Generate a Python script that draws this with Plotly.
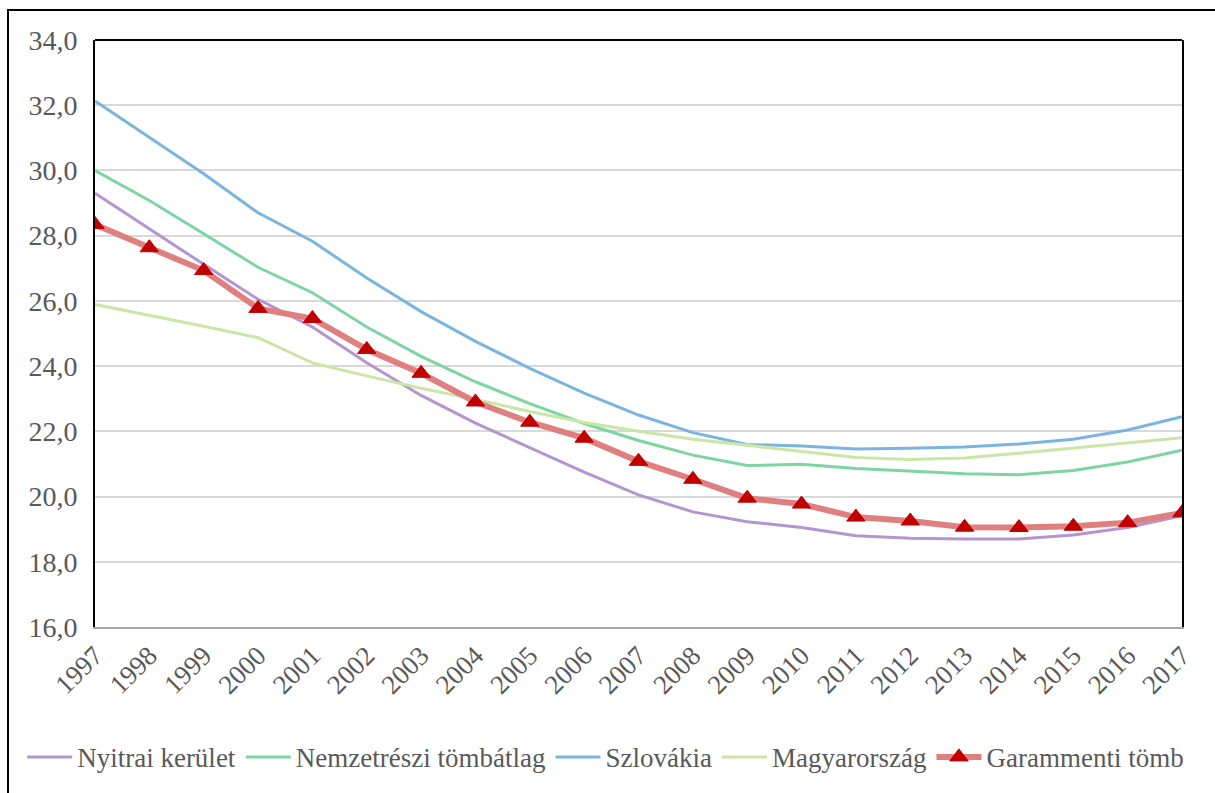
import plotly.graph_objects as go

years = [str(y) for y in range(1997, 2018)]

nyitrai = [29.3, 28.2, 27.12, 26.05, 25.2, 24.1, 23.1, 22.25, 21.5, 20.75, 20.05, 19.53,
           19.23, 19.05, 18.8, 18.72, 18.7, 18.7, 18.82, 19.05, 19.41]
nemzetreszi = [30.0, 29.08, 28.06, 27.03, 26.25, 25.2, 24.3, 23.52, 22.85, 22.24, 21.72, 21.27,
               20.95, 20.99, 20.86, 20.79, 20.7, 20.67, 20.8, 21.06, 21.42]
szlovakia = [32.13, 31.02, 29.9, 28.7, 27.83, 26.7, 25.67, 24.76, 23.93, 23.17, 22.5, 21.96,
             21.6, 21.55, 21.46, 21.48, 21.52, 21.61, 21.76, 22.04, 22.45]
magyarorszag = [25.89, 25.56, 25.22, 24.87, 24.1, 23.7, 23.32, 22.98, 22.61, 22.27, 22.0, 21.76,
                21.58, 21.4, 21.2, 21.14, 21.18, 21.33, 21.49, 21.65, 21.8]
garammenti = [28.34, 27.63, 26.93, 25.77, 25.46, 24.51, 23.78, 22.9, 22.28, 21.79, 21.08, 20.53,
              19.95, 19.77, 19.37, 19.25, 19.06, 19.05, 19.09, 19.2, 19.5]

names = ["Nyitrai kerület", "Nemzetrészi tömbátlag", "Szlovákia", "Magyarország", "Garammenti tömb"]
colors = ["#B495D2", "#7DD5A2", "#7AB5E0", "#C9E6A6", "#E07F7F"]

fig = go.Figure()
for name, vals, col in zip(names[:4], [nyitrai, nemzetreszi, szlovakia, magyarorszag], colors[:4]):
    fig.add_trace(go.Scatter(x=years, y=vals, name=name, mode="lines",
                             line=dict(color=col, width=3)))
fig.add_trace(go.Scatter(x=years, y=garammenti, name=names[4], mode="lines+markers",
                         line=dict(color=colors[4], width=6),
                         marker=dict(symbol="triangle-up", size=16, color="#C00000",
                                     line=dict(color="#C00000", width=1))))

font_family = "Times New Roman"
fig.update_layout(
    width=1215, height=793,
    paper_bgcolor="white", plot_bgcolor="white",
    margin=dict(l=95, r=33, t=40, b=165),
    separators=", ",
    font=dict(family=font_family, color="#595959", size=27),
    showlegend=True,
    legend=dict(orientation="h", x=-0.067, xanchor="left", y=-0.22, yanchor="middle",
                font=dict(size=27, color="#595959", family=font_family),
                itemwidth=45, tracegroupgap=0, traceorder="normal"),
    xaxis=dict(type="category", range=[0, 20], showgrid=False, automargin=False,
               showline=True, linecolor="#A6A6A6", linewidth=2,
               ticks="", tickangle=-45, tickfont=dict(size=27, color="#595959", family=font_family)),
    yaxis=dict(range=[16, 34], dtick=2, tickformat=".1f", automargin=False,
               showgrid=True, gridcolor="#D9D9D9", gridwidth=2,
               showline=True, linecolor="black", linewidth=2, mirror=True,
               ticks="", zeroline=False, ticklabelstandoff=10,
               tickfont=dict(size=28, color="#595959", family=font_family)),
    shapes=[
        dict(type="line", xref="paper", yref="paper", x0=0, x1=1, y0=1, y1=1,
             line=dict(color="black", width=2)),
        dict(type="rect", xref="paper", yref="paper",
             x0=-87/1087, x1=1.2, y0=1 + 30/588, y1=-0.5,
             line=dict(color="black", width=2), layer="below"),
    ],
)

fig.write_html("out.html", config={"displayModeBar": False},
               post_script="document.body.style.margin='0';")
